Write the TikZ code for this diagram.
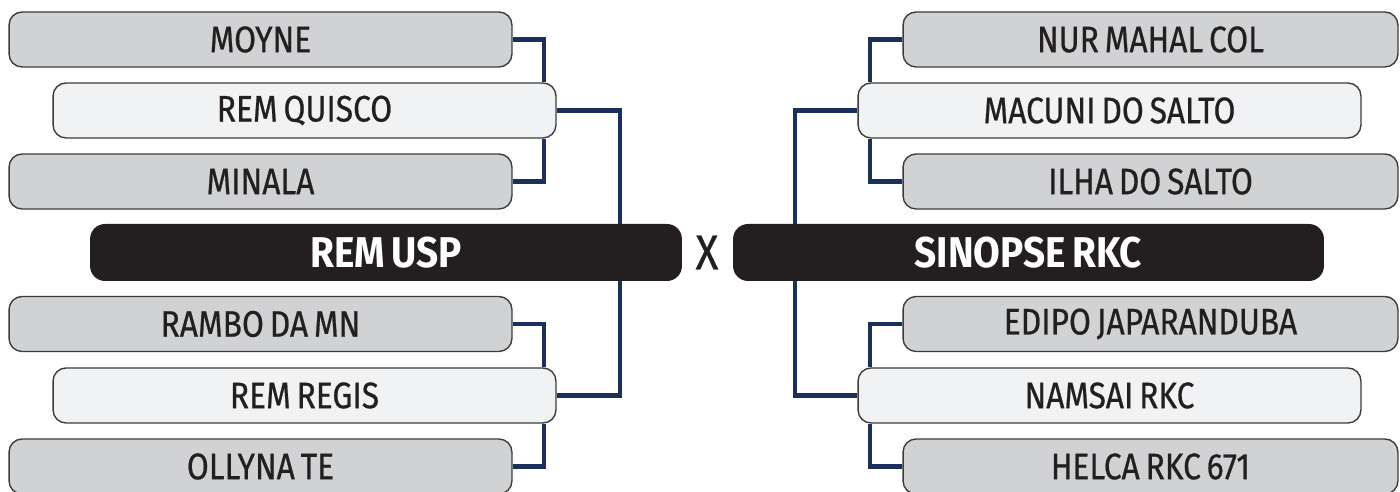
\documentclass[tikz,border=0pt]{standalone}
\usepackage{fontspec}
\setmainfont{Fira Sans}
\newfontfamily\teamfont{Fira Sans}[FakeStretch=0.86,FakeBold=0.6,WordSpace=0.7]
\newfontfamily\finalfont{Fira Sans Bold}[FakeStretch=0.9,WordSpace=0.7]
\usepackage{xcolor}
\usepackage{tikz}
\usetikzlibrary{positioning,calc,backgrounds}

\definecolor{boxgray}{HTML}{D1D2D4}
\definecolor{boxlight}{HTML}{F1F2F3}
\definecolor{boxedge}{HTML}{3C3C3C}
\definecolor{boxdark}{HTML}{231F20}
\definecolor{linknavy}{HTML}{1B2F5B}

\begin{document}
\begin{tikzpicture}[
  x=0.02cm,y=-0.02cm,
  team/.style={draw=boxedge,line width=0.8pt,rounded corners=0.26cm,minimum height=1.1cm,
    minimum width=10.06cm,inner sep=0pt,text=boxdark,font=\teamfont\fontsize{21}{24}\selectfont},
  outer/.style={team,fill=boxgray},
  inner/.style={team,fill=boxlight},
  final/.style={fill=boxdark,rounded corners=0.3cm,minimum height=1.14cm,inner sep=0pt,
    text=white,font=\finalfont\fontsize{24.5}{28}\selectfont},
  link/.style={draw=linknavy,line width=2.3pt}
]
\useasboundingbox (0,0) rectangle (1400,492);
% left bracket
\node[outer] (moyne)  at (260.5,39.5)  {MOYNE};
\node[inner] (quisco) at (304.5,110.5) {REM QUISCO};
\node[outer] (minala) at (260.5,181.5) {MINALA};
\node[final,minimum width=11.84cm] (usp) at (386,252.5) {REM USP};
\node[outer] (rambo)  at (260.5,324)   {RAMBO DA MN};
\node[inner] (regis)  at (304.5,395.5) {REM REGIS};
\node[outer] (ollyna) at (260.5,466.5) {OLLYNA TE};
% right bracket
\node[outer,minimum width=9.9cm] (nur)   at (1150.5,39.5)  {NUR MAHAL COL};
\node[inner] (macuni) at (1109.5,110.5) {MACUNI DO SALTO};
\node[outer,minimum width=9.9cm] (ilha)  at (1150.5,181.5) {ILHA DO SALTO};
\node[final,minimum width=11.82cm] (sinopse) at (1028.5,252.5) {SINOPSE RKC};
\node[outer,minimum width=9.9cm] (edipo) at (1150.5,324)   {EDIPO JAPARANDUBA};
\node[inner] (namsai) at (1109.5,395.5) {NAMSAI RKC};
\node[outer,minimum width=9.9cm] (helca) at (1150.5,466.5) {HELCA RKC 671};
\node[font=\teamfont\fontsize{28}{32}\selectfont,text=boxdark] (versus) at (707,252.5) {X};
\begin{scope}[on background layer]
\draw[link] (moyne.east)  -| ([xshift=-0.26cm]quisco.north east);
\draw[link] (minala.east) -| ([xshift=-0.26cm]quisco.south east);
\draw[link] (quisco.east) -| ([xshift=-1.24cm]usp.north east);
\draw[link] (regis.east)  -| ([xshift=-1.24cm]usp.south east);
\draw[link] (rambo.east)  -| ([xshift=-0.26cm]regis.north east);
\draw[link] (ollyna.east) -| ([xshift=-0.26cm]regis.south east);
\draw[link] (nur.west)    -| ([xshift=0.26cm]macuni.north west);
\draw[link] (ilha.west)   -| ([xshift=0.26cm]macuni.south west);
\draw[link] (macuni.west) -| ([xshift=1.24cm]sinopse.north west);
\draw[link] (namsai.west) -| ([xshift=1.24cm]sinopse.south west);
\draw[link] (edipo.west)  -| ([xshift=0.26cm]namsai.north west);
\draw[link] (helca.west)  -| ([xshift=0.26cm]namsai.south west);
\end{scope}
\end{tikzpicture}
\end{document}
